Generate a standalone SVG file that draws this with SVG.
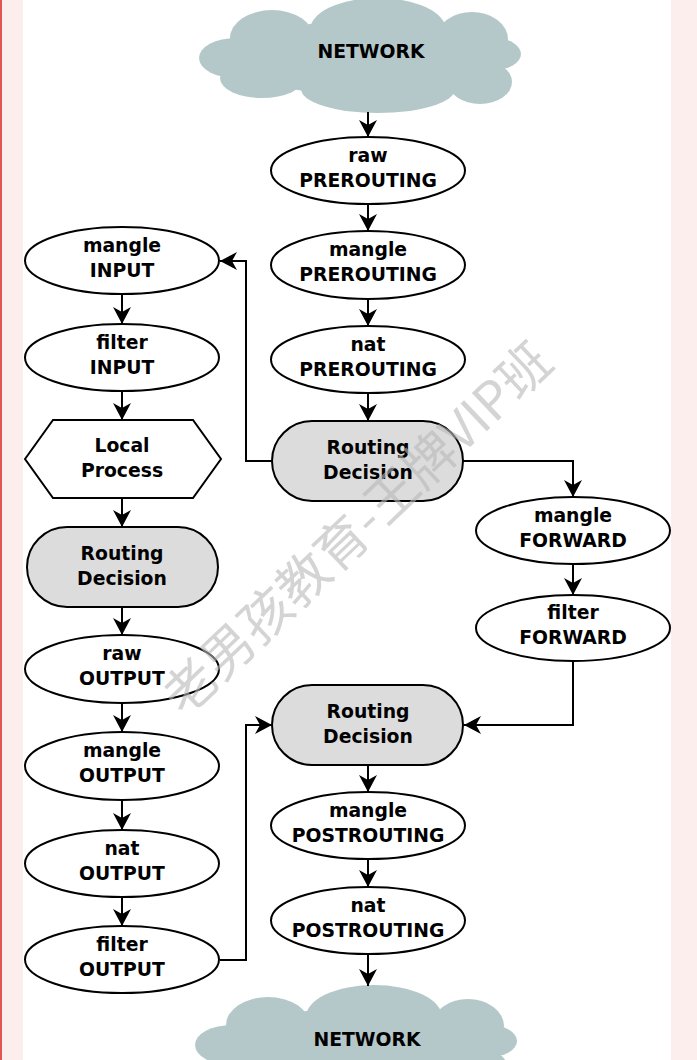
<svg xmlns="http://www.w3.org/2000/svg" width="697" height="1060" viewBox="0 0 697 1060">
<style>
.el{fill:#fff;stroke:#000;stroke-width:2}
.rd{fill:#dcdcdc;stroke:#000;stroke-width:2}
.t{font-family:"DejaVu Sans","Liberation Sans",sans-serif;font-weight:bold;font-size:18.8px;fill:#000;text-anchor:middle}
.c{fill:none;stroke:#000;stroke-width:2}
.wm{font-family:"Noto Sans CJK SC",sans-serif;font-size:52px;fill:#b8b8b8;fill-opacity:0.6;text-anchor:middle}
</style>
<defs>
<marker id="ah" viewBox="-18 -10 19 20" refX="0" refY="0" markerWidth="19" markerHeight="20" markerUnits="userSpaceOnUse" orient="auto">
<path d="M0,0 L-17,-9 L-12,0 L-17,9 Z" fill="#000"/>
</marker>
<g id="cloud" fill="#b5c8c9">
<ellipse cx="378" cy="30" rx="68" ry="32"/>
<ellipse cx="272" cy="38" rx="42" ry="28"/>
<ellipse cx="472" cy="39" rx="36" ry="27"/>
<ellipse cx="236" cy="58" rx="37" ry="20"/>
<ellipse cx="494" cy="54" rx="27" ry="16"/>
<ellipse cx="262" cy="78" rx="42" ry="20"/>
<ellipse cx="378" cy="89" rx="77" ry="24"/>
<ellipse cx="480" cy="82" rx="32" ry="22"/>
<ellipse cx="370" cy="58" rx="135" ry="38"/>
</g>
</defs>
<rect x="0" y="0" width="697" height="1060" fill="#fff"/>
<rect x="0" y="0" width="23" height="1060" fill="#fdeeee"/>
<rect x="0" y="0" width="2" height="1060" fill="#e05555"/>
<rect x="671" y="0" width="26" height="1060" fill="#fdeeee"/>

<g id="network-top">
<use href="#cloud"/>
<text class="t" x="371" y="58">NETWORK</text>
</g>
<g id="network-bottom">
<use href="#cloud" transform="translate(-4,987)"/>
<text class="t" x="367" y="1046">NETWORK</text>
</g>

<g id="connectors" class="c" marker-end="url(#ah)">
<path d="M368,112 V137"/>
<path d="M368,204 V231"/>
<path d="M368,299 V326"/>
<path d="M368,393 V421"/>
<path d="M272,461 H246 V261 H220"/>
<path d="M463,461 H573 V497"/>
<path d="M573,564 V595"/>
<path d="M573,661 V725 H464"/>
<path d="M368,766 V792"/>
<path d="M368,859 V887"/>
<path d="M368,954 V986"/>
<path d="M122,294 V324"/>
<path d="M122,391 V420"/>
<path d="M122,498 V527"/>
<path d="M122,607 V635"/>
<path d="M122,703 V732"/>
<path d="M122,800 V830"/>
<path d="M122,897 V926"/>
<path d="M220,960 H246 V725 H272"/>
</g>

<g id="raw-prerouting"><ellipse class="el" cx="368" cy="170.5" rx="97" ry="33.5"/><text class="t" x="368" y="161.5">raw</text><text class="t" x="368" y="186.5">PREROUTING</text></g>
<g id="mangle-prerouting"><ellipse class="el" cx="368" cy="265" rx="97" ry="34"/><text class="t" x="368" y="256">mangle</text><text class="t" x="368" y="281">PREROUTING</text></g>
<g id="nat-prerouting"><ellipse class="el" cx="368" cy="359.5" rx="97" ry="33.5"/><text class="t" x="368" y="350.5">nat</text><text class="t" x="368" y="375.5">PREROUTING</text></g>
<g id="routing-1"><rect class="rd" x="272" y="421" width="191" height="80" rx="40"/><text class="t" x="368" y="453.5">Routing</text><text class="t" x="368" y="479">Decision</text></g>
<g id="mangle-forward"><ellipse class="el" cx="573" cy="530.5" rx="97" ry="33.5"/><text class="t" x="573" y="521.5">mangle</text><text class="t" x="573" y="546.5">FORWARD</text></g>
<g id="filter-forward"><ellipse class="el" cx="573" cy="628" rx="97" ry="33"/><text class="t" x="573" y="619">filter</text><text class="t" x="573" y="644">FORWARD</text></g>
<g id="routing-3"><rect class="rd" x="272" y="685" width="191" height="80" rx="40"/><text class="t" x="368" y="717.5">Routing</text><text class="t" x="368" y="743">Decision</text></g>
<g id="mangle-postrouting"><ellipse class="el" cx="368" cy="825.5" rx="97" ry="33.5"/><text class="t" x="368" y="816.5">mangle</text><text class="t" x="368" y="841.5">POSTROUTING</text></g>
<g id="nat-postrouting"><ellipse class="el" cx="368" cy="920.5" rx="97" ry="33.5"/><text class="t" x="368" y="911.5">nat</text><text class="t" x="368" y="936.5">POSTROUTING</text></g>

<g id="mangle-input"><ellipse class="el" cx="122" cy="260.5" rx="97" ry="33.5"/><text class="t" x="122" y="251.5">mangle</text><text class="t" x="122" y="276.5">INPUT</text></g>
<g id="filter-input"><ellipse class="el" cx="122" cy="357.5" rx="97" ry="33.5"/><text class="t" x="122" y="348.5">filter</text><text class="t" x="122" y="373.5">INPUT</text></g>
<g id="local-process"><polygon class="el" points="25,459 53,420 193,420 221,459 193,498 53,498"/><text class="t" x="122" y="452">Local</text><text class="t" x="122" y="477">Process</text></g>
<g id="routing-2"><rect class="rd" x="27" y="527" width="191" height="80" rx="40"/><text class="t" x="122" y="560">Routing</text><text class="t" x="122" y="585">Decision</text></g>
<g id="raw-output"><ellipse class="el" cx="122" cy="669" rx="97" ry="34"/><text class="t" x="122" y="660">raw</text><text class="t" x="122" y="685">OUTPUT</text></g>
<g id="mangle-output"><ellipse class="el" cx="122" cy="766" rx="97" ry="34"/><text class="t" x="122" y="757">mangle</text><text class="t" x="122" y="782">OUTPUT</text></g>
<g id="nat-output"><ellipse class="el" cx="122" cy="863.5" rx="97" ry="33.5"/><text class="t" x="122" y="854.5">nat</text><text class="t" x="122" y="879.5">OUTPUT</text></g>
<g id="filter-output"><ellipse class="el" cx="122" cy="959.5" rx="97" ry="33.5"/><text class="t" x="122" y="950.5">filter</text><text class="t" x="122" y="975.5">OUTPUT</text></g>

<text class="wm" transform="translate(370,542) rotate(-43.5)">老男孩教育-王牌VIP班</text>
</svg>
